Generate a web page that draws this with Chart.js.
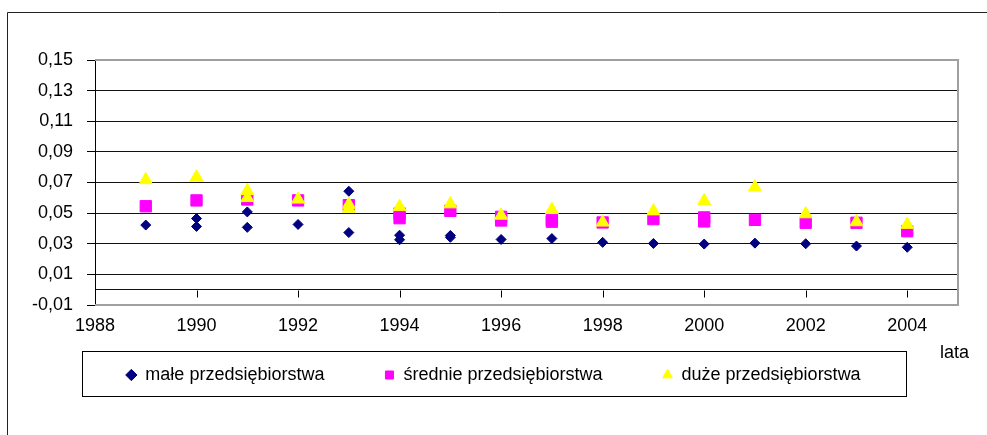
<!DOCTYPE html>
<html>
<head>
<meta charset="utf-8">
<script src="https://cdn.jsdelivr.net/npm/chart.js@4.4.0/dist/chart.umd.min.js"></script>
<style>
html,body{margin:0;padding:0;background:#fff;}
#wrap{width:987px;height:435px;position:relative;}
</style>
</head>
<body>
<div id="wrap"><canvas id="c" width="987" height="435"></canvas></div>
<script>
// ---- data ----
const xTickLabels = [1988, 1990, 1992, 1994, 1996, 1998, 2000, 2002, 2004];
const yTickValues = [-0.01, 0.01, 0.03, 0.05, 0.07, 0.09, 0.11, 0.13, 0.15];
const seriesNames = ['małe przedsiębiorstwa', 'średnie przedsiębiorstwa', 'duże przedsiębiorstwa'];
const xAxisTitle = 'lata';

const smallYears  = [1989,1990,1990,1991,1991,1992,1993,1993,1994,1994,1995,1995,1996,1997,1998,1999,2000,2001,2002,2003,2004];
const smallValues = [0.0422,0.0465,0.0413,0.0508,0.0407,0.0426,0.0643,0.0373,0.0356,0.0326,0.0354,0.0342,0.0328,0.0334,0.0309,0.0302,0.0298,0.0304,0.0300,0.0285,0.0277];

const mediumYears  = [1989,1990,1991,1992,1993,1994,1994,1995,1996,1996,1997,1997,1998,1999,2000,2000,2001,2002,2003,2004];
const mediumValues = [0.0545,0.0583,0.0589,0.0583,0.0552,0.0498,0.0467,0.0515,0.0476,0.0452,0.0456,0.0444,0.0439,0.0461,0.0472,0.0446,0.0456,0.0437,0.0437,0.0382];

const largeYears  = [1989,1990,1991,1991,1992,1993,1993,1994,1995,1996,1997,1998,1999,2000,2001,2002,2003,2004];
const largeValues = [0.0717,0.0735,0.0645,0.0600,0.0590,0.0556,0.0530,0.0541,0.0559,0.0485,0.0522,0.0440,0.0513,0.0580,0.0669,0.0494,0.0442,0.0425];

const toPoints = (xs, ys) => xs.map((x, i) => ({x: x, y: ys[i]}));

const FONT = 'Arial, "Liberation Sans", sans-serif';
const near = (a, b) => Math.abs(a - b) < 1e-9;

const deco = {
  id: 'deco',
  afterLayout(chart) {
    // pull the legend row up, just below the axis labels
    const lg = chart.legend;
    if (lg) {
      const shift = lg.top - 306;
      lg.top -= shift;
      lg.bottom -= shift;
    }
  },
  beforeDraw(chart) {
    const ctx = chart.ctx;
    ctx.save();
    ctx.fillStyle = '#fff';
    ctx.fillRect(0, 0, chart.width, chart.height);
    ctx.strokeStyle = '#222';
    ctx.lineWidth = 1;
    ctx.beginPath();
    ctx.moveTo(7.5, 435);
    ctx.lineTo(7.5, 12.5);
    ctx.lineTo(987, 12.5);
    ctx.stroke();
    ctx.restore();
  },
  beforeDatasetsDraw(chart) {
    const ctx = chart.ctx, a = chart.chartArea;
    const xs = chart.scales.x, ys = chart.scales.y;
    ctx.save();
    ctx.strokeStyle = '#a0a0a0';
    ctx.lineWidth = 2;
    ctx.beginPath();
    ctx.moveTo(a.left, a.top);
    ctx.lineTo(a.right, a.top);
    ctx.lineTo(a.right, a.bottom);
    ctx.lineTo(a.left, a.bottom);
    ctx.stroke();
    const y0 = Math.round(ys.getPixelForValue(0)) + 0.5;
    ctx.strokeStyle = '#000';
    ctx.lineWidth = 1;
    ctx.beginPath();
    xs.ticks.forEach(t => {
      const px = Math.round(xs.getPixelForValue(t.value)) + 0.5;
      ctx.moveTo(px, y0);
      ctx.lineTo(px, y0 + 7);
    });
    ctx.stroke();
    ctx.restore();
  },
  afterDraw(chart) {
    const ctx = chart.ctx;
    ctx.save();
    ctx.strokeStyle = '#000';
    ctx.lineWidth = 1;
    ctx.strokeRect(82.5, 351.5, 824, 45);
    ctx.fillStyle = '#000';
    ctx.font = '18px ' + FONT;
    ctx.textAlign = 'left';
    ctx.textBaseline = 'middle';
    ctx.fillText(xAxisTitle, 940, 353);
    ctx.restore();
  }
};

new Chart(document.getElementById('c'), {
  type: 'scatter',
  data: {
    datasets: [
      {
        label: seriesNames[0],
        data: toPoints(smallYears, smallValues),
        pointStyle: 'rectRot',
        pointRadius: 5,
        pointHoverRadius: 5,
        pointBackgroundColor: '#000080',
        pointBorderColor: '#000080',
        pointBorderWidth: 1,
        backgroundColor: '#000080',
        borderColor: '#000080',
        order: 3
      },
      {
        label: seriesNames[1],
        data: toPoints(mediumYears, mediumValues),
        pointStyle: 'rect',
        pointRadius: 8,
        pointHoverRadius: 8,
        pointBackgroundColor: '#ff00ff',
        pointBorderColor: '#ff00ff',
        pointBorderWidth: 1,
        backgroundColor: '#ff00ff',
        borderColor: '#ff00ff',
        order: 2
      },
      {
        label: seriesNames[2],
        data: toPoints(largeYears, largeValues),
        pointStyle: 'triangle',
        pointRadius: 7.5,
        pointHoverRadius: 7.5,
        pointBackgroundColor: '#ffff00',
        pointBorderColor: '#ffff00',
        pointBorderWidth: 1,
        backgroundColor: '#ffff00',
        borderColor: '#ffff00',
        order: 1
      }
    ]
  },
  options: {
    responsive: false,
    animation: false,
    devicePixelRatio: 1,
    layout: { padding: { left: 29, right: 29, top: 60, bottom: 10 } },
    plugins: {
      tooltip: { enabled: false },
      legend: {
        position: 'bottom',
        labels: {
          usePointStyle: true,
          boxWidth: 10,
          boxHeight: 8,
          padding: 60,
          color: '#000',
          font: { size: 18, family: FONT },
          sort: (a, b) => a.datasetIndex - b.datasetIndex
        }
      }
    },
    scales: {
      x: {
        type: 'linear',
        position: 'bottom',
        min: 1988,
        max: 2005,
        afterBuildTicks: (scale) => { scale.ticks = xTickLabels.map(v => ({value: v})); },
        afterFit: (scale) => { scale.height = 32; },
        grid: { display: false, drawTicks: false },
        border: { display: false },
        ticks: {
          autoSkip: false,
          maxRotation: 0,
          padding: 10,
          color: '#000',
          font: { size: 18, family: FONT },
          callback: (v) => String(v)
        }
      },
      y: {
        min: -0.01,
        max: 0.15,
        afterBuildTicks: (scale) => {
          const t = yTickValues.map(v => ({value: v}));
          t.push({value: 0});
          t.sort((a, b) => a.value - b.value);
          scale.ticks = t;
        },
        afterFit: (scale) => { scale.width = 66; },
        border: { display: true, color: '#000', width: 1 },
        grid: {
          color: (c) => (c.tick && (near(c.tick.value, 0.15) || near(c.tick.value, -0.01))) ? 'rgba(0,0,0,0)' : '#111',
          tickColor: (c) => (c.tick && near(c.tick.value, 0)) ? 'rgba(0,0,0,0)' : '#000',
          tickLength: 8,
          lineWidth: 1
        },
        ticks: {
          autoSkip: false,
          padding: 14,
          color: '#000',
          font: { size: 18, family: FONT },
          callback: (v) => near(v, 0) ? '' : v.toFixed(2).replace('.', ',')
        }
      }
    }
  },
  plugins: [deco]
});
</script>
</body>
</html>
